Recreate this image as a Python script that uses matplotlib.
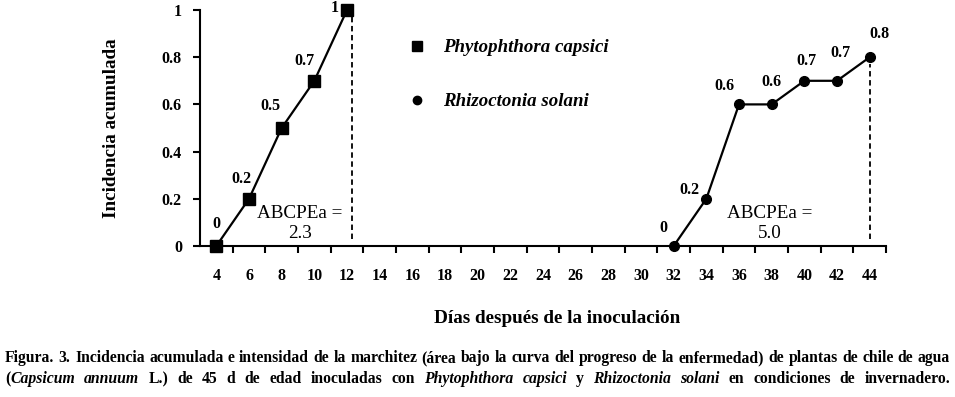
import matplotlib
matplotlib.use("agg")
import matplotlib.pyplot as plt
from matplotlib.lines import Line2D
import numpy as np

plt.rcParams["font.family"] = ["Liberation Serif", "DejaVu Serif"]

# data
DAYS = list(range(4, 45, 2))
PC_DAYS = [4, 6, 8, 10, 12]
PC_INC = [0, 0.2, 0.5, 0.7, 1.0]
PC_LABELS = ["0", "0.2", "0.5", "0.7", "1"]
RS_DAYS = [32, 34, 36, 38, 40, 42, 44]
RS_INC = [0, 0.2, 0.6, 0.6, 0.7, 0.7, 0.8]
RS_LABELS = ["0", "0.2", "0.6", "0.6", "0.7", "0.7", "0.8"]
PC_AUDPC = "2.3"
RS_AUDPC = "5.0"
YTICKS = [0, 0.2, 0.4, 0.6, 0.8, 1]
YTICK_LABELS = ["0", "0.2", "0.4", "0.6", "0.8", "1"]

CAPTION_1 = [[("Figura.", "normal")], [("3.", "normal")], [("Incidencia", "normal")], [("acumulada", "normal")],
             [("e", "normal")], [("intensidad", "normal")], [("de", "normal")], [("la", "normal")],
             [("marchitez", "normal")], [("(área", "normal")], [("bajo", "normal")], [("la", "normal")],
             [("curva", "normal")], [("del", "normal")], [("progreso", "normal")], [("de", "normal")],
             [("la", "normal")], [("enfermedad)", "normal")], [("de", "normal")], [("plantas", "normal")],
             [("de", "normal")], [("chile", "normal")], [("de", "normal")], [("agua", "normal")]]
CAPTION_2 = [[("(", "normal"), ("Capsicum", "italic")], [("annuum", "italic")], [("L.)", "normal")],
             [("de", "normal")], [("45", "normal")], [("d", "normal")], [("de", "normal")], [("edad", "normal")],
             [("inoculadas", "normal")], [("con", "normal")], [("Phytophthora", "italic")], [("capsici", "italic")],
             [("y", "normal")], [("Rhizoctonia", "italic")], [("solani", "italic")], [("en", "normal")],
             [("condiciones", "normal")], [("de", "normal")], [("invernadero.", "normal")]]

W, H = 955, 397
fig = plt.figure(figsize=(W / 100, H / 100), dpi=100)
ax = fig.add_axes([200 / W, 1 - 246 / H, 686 / W, 236 / H])

pc_x = [DAYS.index(d) for d in PC_DAYS]
rs_x = [DAYS.index(d) for d in RS_DAYS]

ax.plot(pc_x, PC_INC, color="black", lw=1.6, marker="s", ms=8, clip_on=False, zorder=3)
ax.plot(rs_x, RS_INC, color="black", lw=1.6, marker="o", ms=7, clip_on=False, zorder=3)

pc_off = [(0, 14), (-8, 12), (-11, 14), (-10, 12), (-12, -6)]
rs_off = [(-10, 10), (-17, 1), (-15, 10), (0, 14), (2, 12), (3, 20), (10, 15)]
for x, y, lab, off in zip(pc_x, PC_INC, PC_LABELS, pc_off):
    ax.annotate(lab, (x, y), xytext=off, textcoords="offset pixels", ha="center", va="bottom",
                fontsize=11.5, fontweight="bold", annotation_clip=False)
for x, y, lab, off in zip(rs_x, RS_INC, RS_LABELS, rs_off):
    ax.annotate(lab, (x, y), xytext=off, textcoords="offset pixels", ha="center", va="bottom",
                fontsize=11.5, fontweight="bold", annotation_clip=False)

# dashed end lines
ax.plot([pc_x[-1] + 0.15] * 2, [0.03, 0.98], color="black", lw=1.3, ls=(0, (3, 2)))
ax.plot([rs_x[-1]] * 2, [0.03, RS_INC[-1] - 0.03], color="black", lw=1.3, ls=(0, (3, 2)))

ax.text(2.55, 0.095, "ABCPEa =\n" + PC_AUDPC, ha="center", va="center", fontsize=13.8, linespacing=1.2)
ax.text(16.95, 0.095, "ABCPEa =\n" + RS_AUDPC, ha="center", va="center", fontsize=13.8, linespacing=1.2)

ax.set_xlim(-0.5, len(DAYS) - 0.5)
ax.set_ylim(0, 1)
ax.set_xticks(range(len(DAYS)))
ax.set_xticklabels([str(d) for d in DAYS], fontsize=11.5, fontweight="bold")
ax.set_xticks(np.arange(0.5, len(DAYS), 1), minor=True)
ax.tick_params(axis="x", which="major", length=0, pad=16)
ax.tick_params(axis="x", which="minor", length=5, width=1.5, direction="out")
ax.set_yticks(YTICKS)
ax.set_yticklabels(YTICK_LABELS, fontsize=11.5, fontweight="bold")
ax.tick_params(axis="y", length=5, width=1.5, direction="out", pad=8)
for s in ["top", "right"]:
    ax.spines[s].set_visible(False)
for s in ["left", "bottom"]:
    ax.spines[s].set_linewidth(1.5)

ax.set_ylabel("Incidencia acumulada", fontsize=13.8, fontweight="bold")
ax.yaxis.set_label_coords(-80 / 686, 0.5)
ax.set_xlabel("Días después de la inoculación", fontsize=13.8, fontweight="bold")
ax.xaxis.set_label_coords(357 / 686, -64 / 236)

handles = [Line2D([], [], color="black", marker="s", ls="none", ms=7),
           Line2D([], [], color="black", marker="o", ls="none", ms=6)]
fig.legend(handles, ["Phytophthora capsici", "Rhizoctonia solani"], loc="upper left",
           bbox_to_anchor=(408 / W, 1 - 39 / H), frameon=False, borderpad=0, borderaxespad=0,
           handlelength=1.0, handletextpad=0.85, labelspacing=1.95,
           prop=dict(style="italic", weight="bold", size=13.6))


def draw_line(words, size, y, x0, x1, r):
    widths = []
    for word in words:
        ws = []
        for seg, st in word:
            t = fig.text(0, 0, seg, fontsize=size, fontweight="bold", fontstyle=st)
            ws.append(t.get_window_extent(r).width)
            t.remove()
        widths.append(ws)
    total = sum(sum(ws) for ws in widths)
    gap = (x1 - x0 - total) / (len(words) - 1)
    x = x0
    for word, ws in zip(words, widths):
        for (seg, st), w in zip(word, ws):
            fig.text(x / W, 1 - y / H, seg, fontsize=size, fontweight="bold", fontstyle=st, va="baseline")
            x += w
        x += gap
    return total


r = fig.canvas.get_renderer()
base = 10
widths = 0
for word in CAPTION_1:
    for seg, st in word:
        t = fig.text(0, 0, seg, fontsize=base, fontweight="bold", fontstyle=st)
        widths += t.get_window_extent(r).width
        t.remove()
nat = widths + 0.25 * base * 100 / 72 * (len(CAPTION_1) - 1)
size = base * 945 / nat
draw_line(CAPTION_1, size, 362, 5, 950, r)
draw_line(CAPTION_2, size, 383, 5, 950, r)

fig.savefig("out.png", dpi=100)
